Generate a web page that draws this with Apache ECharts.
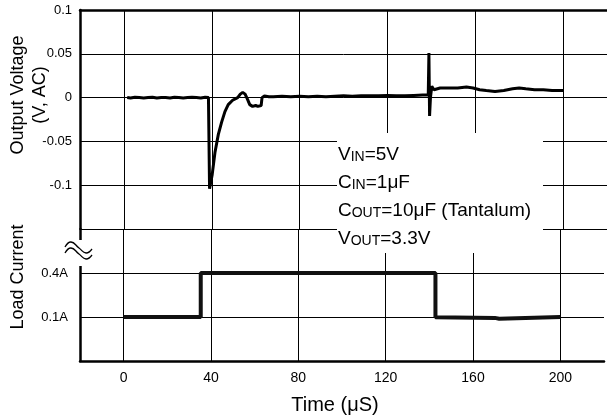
<!DOCTYPE html>
<html>
<head>
<meta charset="utf-8">
<script src="https://cdn.jsdelivr.net/npm/echarts@6/dist/echarts.min.js"></script>
<style>html,body{margin:0;padding:0;background:#fff;}#c{width:607px;height:420px;}</style>
</head>
<body>
<div id="c"></div>
<script>
// Output voltage trace (time in µs, volts AC)
const voltTime = [1.5,3,5,7,9,11,13,15,17,19,21,23,25,27,29,31,33,35,37,38.5,
  39.0,40.2,41.5,43,44.5,46,47.5,49.5,51.8,53,54.1,55.2,56.3,57.3,58.6,60,61,62.5,62.9,64,66,
  68,72,76,80,84,88,92,96,100,104,108,112,116,120,124,128,132,136,138.6,
  138.9,139.2,139.6,140.2,141.2,144,148,152,156,159,162,165,169,173,177,180,183,187,191,195,200];
const voltValue = [0.000,-0.0005,0.0005,0.000,-0.0005,0.000,0.0005,-0.0005,0.000,0.000,-0.0005,0.0005,0.000,-0.0005,0.000,0.0005,0.000,-0.0005,0.0005,0.000,
  -0.104,-0.088,-0.062,-0.042,-0.028,-0.016,-0.008,-0.003,0.000,0.004,0.006,0.004,-0.002,-0.008,-0.010,-0.009,-0.010,-0.009,0.000,0.002,0.001,
  0.001,0.0015,0.001,0.0015,0.001,0.0015,0.001,0.0015,0.002,0.0015,0.002,0.002,0.002,0.0025,0.002,0.002,0.0025,0.003,0.003,
  0.051,-0.021,0.000,0.013,0.009,0.011,0.011,0.011,0.012,0.011,0.009,0.008,0.007,0.008,0.010,0.011,0.010,0.009,0.009,0.008,0.008];
// Load current trace (time in µs, amps)
const currTime = [0, 35.3, 35.3, 142.8, 142.8, 170, 172, 200];
const currValue = [0.1, 0.1, 0.4, 0.4, 0.099, 0.094, 0.088, 0.1];
// tick labels
const timeTicks = [0, 40, 80, 120, 160, 200];
const voltTicks = [0.1, 0.05, 0, -0.05, -0.1];
const currTicks = [0.1, 0.4];
const currTickText = ['0.1A', '0.4A'];
const legendLines = [['V','IN','=5V'],['C','IN','=1\u03bcF'],['C','OUT','=10\u03bcF (Tantalum)'],['V','OUT','=3.3V']];

const FONT = 'Liberation Sans, Arial, sans-serif';
const near = (a, b) => Math.abs(a - b) < 1e-6;
const gridCol = '#000';
const clear = 'rgba(0,0,0,0)';

const chart = echarts.init(document.getElementById('c'), null, {renderer: 'canvas'});
const legendText = legendLines.map(l => `{a|${l[0]}}{b|${l[1]}}{a|${l[2]}}`).join('\n');

chart.setOption({
  animation: false,
  backgroundColor: '#fff',
  grid: [
    {left: 80, top: 10, width: 528, height: 219},
    {left: 80, top: 229, width: 528, height: 132}
  ],
  xAxis: [
    {gridIndex: 0, type: 'value', min: -20, max: 220, interval: 20, position: 'top',
     axisLine: {show: true, onZero: false, lineStyle: {color: '#000', width: 2.5}},
     axisTick: {show: false}, axisLabel: {show: false},
     splitLine: {show: true, lineStyle: {color: [clear, gridCol], width: 1}}},
    {gridIndex: 1, type: 'value', min: -20, max: 220, interval: 20, position: 'bottom',
     axisLine: {show: true, onZero: false, lineStyle: {color: '#000', width: 2.5}},
     axisTick: {show: false},
     axisLabel: {show: true, margin: 10, fontSize: 14, color: '#000', fontFamily: FONT,
       formatter: v => timeTicks.some(t => near(t, v)) ? String(Math.round(v)) : ''},
     splitLine: {show: true, lineStyle: {color: [clear, gridCol], width: 1}}}
  ],
  yAxis: [
    {gridIndex: 0, type: 'value', min: -0.15, max: 0.1, interval: 0.05,
     axisLine: {show: true, onZero: false, lineStyle: {color: '#000', width: 2.5}},
     axisTick: {show: false},
     axisLabel: {show: true, margin: 8, fontSize: 13, color: '#000', fontFamily: FONT,
       formatter: v => { const t = voltTicks.find(t => near(t, v)); return t === undefined ? '' : String(t); }},
     splitLine: {show: true, lineStyle: {color: gridCol, width: 1}}},
    {gridIndex: 1, type: 'value', min: -0.2, max: 0.7, interval: 0.1,
     axisLine: {show: true, onZero: false, lineStyle: {color: '#000', width: 2.5}},
     axisTick: {show: false},
     axisLabel: {show: true, margin: 12, fontSize: 13, color: '#000', fontFamily: FONT,
       formatter: v => { const i = currTicks.findIndex(t => near(t, v)); return i < 0 ? '' : currTickText[i]; }},
     splitLine: {show: true, lineStyle: {color: [gridCol, clear, clear], width: 1}}}
  ],
  series: [
    {type: 'line', xAxisIndex: 0, yAxisIndex: 0, showSymbol: false, symbol: 'none',
     data: voltTime.map((t, i) => [t, voltValue[i]]),
     lineStyle: {color: '#000', width: 3}, z: 3},
    {type: 'line', xAxisIndex: 1, yAxisIndex: 1, showSymbol: false, symbol: 'none',
     data: currTime.map((t, i) => [t, currValue[i]]),
     lineStyle: {color: '#111', width: 4}, z: 3}
  ],
  graphic: {elements: [
    {type: 'rect', z: 100, shape: {x: 337, y: 133, width: 206, height: 120}, style: {fill: '#fff'}},
    {type: 'text', z: 101, x: 338, y: 136, style: {
      text: legendText, align: 'left', verticalAlign: 'top', fill: '#000',
      rich: {
        a: {fontSize: 19, fontFamily: FONT, lineHeight: 28, verticalAlign: 'bottom', fill: '#000'},
        b: {fontSize: 14, fontFamily: FONT, lineHeight: 20.5, verticalAlign: 'bottom', fill: '#000'}
      }}},
    {type: 'rect', z: 100, shape: {x: 70, y: 240, width: 20, height: 26}, style: {fill: '#fff'}},
    {type: 'polyline', z: 101, shape: {points: [[65,247],[71,242],[79,248],[86,253],[92,249]], smooth: 0.5},
     style: {stroke: '#000', lineWidth: 1.3, fill: null}},
    {type: 'polyline', z: 101, shape: {points: [[65,253],[71,248],[79,254],[86,259],[92,255]], smooth: 0.5},
     style: {stroke: '#000', lineWidth: 1.3, fill: null}},
    {type: 'text', z: 101, x: 18, y: 95, rotation: Math.PI / 2, style: {
      text: 'Output Voltage', align: 'center', verticalAlign: 'middle', fill: '#000', font: '18px ' + FONT}},
    {type: 'text', z: 101, x: 40, y: 95, rotation: Math.PI / 2, style: {
      text: '(V, AC)', align: 'center', verticalAlign: 'middle', fill: '#000', font: '18px ' + FONT}},
    {type: 'text', z: 101, x: 18, y: 277, rotation: Math.PI / 2, style: {
      text: 'Load Current', align: 'center', verticalAlign: 'middle', fill: '#000', font: '18px ' + FONT}},
    {type: 'text', z: 101, x: 335, y: 405, style: {
      text: 'Time (\u03bcS)', align: 'center', verticalAlign: 'middle', fill: '#000', font: '20px ' + FONT}}
  ]}
});
</script>
</body>
</html>
